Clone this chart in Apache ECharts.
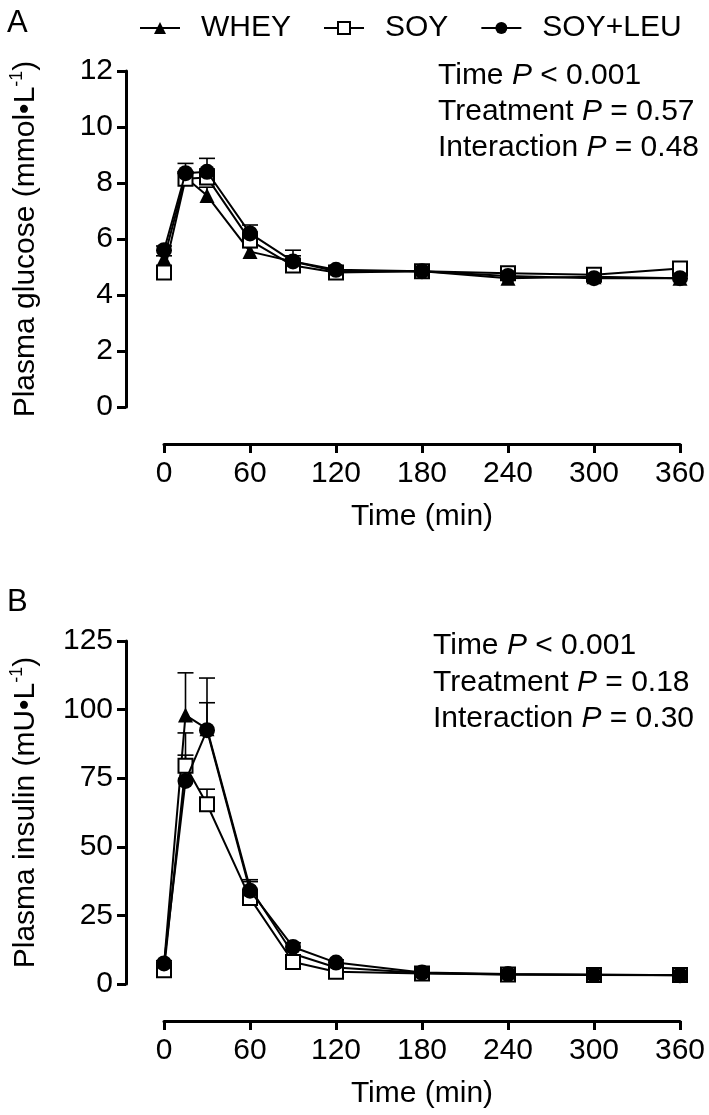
<!DOCTYPE html>
<html>
<head>
<meta charset="utf-8">
<script src="https://cdn.jsdelivr.net/npm/echarts@6/dist/echarts.min.js"></script>
<style>
html,body{margin:0;padding:0;background:#fff;}
#chart{width:709px;height:1115px;}
</style>
</head>
<body>
<div id="chart"></div>
<script>
const times = [0, 15, 30, 60, 90, 120, 180, 240, 300, 360];
const seriesNames = ['WHEY', 'SOY', 'SOY+LEU'];
const xTicks = [0, 60, 120, 180, 240, 300, 360];

// Panel A: plasma glucose (mmol/L), mean and upper SEM
const glucoseWhey = [5.3, 8.2, 7.55, 5.55, 5.2, 4.85, 4.85, 4.6, 4.65, 4.6];
const glucoseWheyErr = [0.1, 0.2, 0.3, 0.15, 0.2, 0.1, 0.1, 0.1, 0.1, 0.1];
const glucoseSoy = [4.8, 8.15, 8.2, 5.95, 5.05, 4.8, 4.85, 4.78, 4.72, 4.95];
const glucoseSoyErr = [0.1, 0.2, 0.3, 0.3, 0.2, 0.1, 0.1, 0.1, 0.1, 0.1];
const glucoseSoyLeu = [5.6, 8.35, 8.4, 6.2, 5.2, 4.9, 4.85, 4.68, 4.6, 4.6];
const glucoseSoyLeuErr = [0.15, 0.35, 0.48, 0.3, 0.4, 0.1, 0.15, 0.1, 0.1, 0.1];

// Panel B: plasma insulin (mU/L), mean and upper SEM
const insulinWhey = [7, 98, 93, 35, 11, 6, 4, 3.5, 3.5, 3.2];
const insulinWheyErr = [1, 15.4, 9.5, 3, 1.5, 1, 0.5, 0.5, 0.5, 0.5];
const insulinSoy = [5, 79.5, 65.5, 31.3, 8, 4.5, 3.8, 3.5, 3.3, 3.3];
const insulinSoyErr = [0.8, 12, 5.5, 3, 1, 0.5, 0.5, 0.5, 0.5, 0.5];
const insulinSoyLeu = [7.5, 74, 92.5, 34, 13.5, 7.8, 4.2, 3.6, 3.3, 3.2];
const insulinSoyLeuErr = [1, 9.4, 19, 3.3, 1.5, 1, 0.5, 0.5, 0.5, 0.5];

const statsA = [['Time ', 'P', ' < 0.001'], ['Treatment ', 'P', ' = 0.57'], ['Interaction ', 'P', ' = 0.48']];
const statsB = [['Time ', 'P', ' < 0.001'], ['Treatment ', 'P', ' = 0.18'], ['Interaction ', 'P', ' = 0.30']];

const FONT = 'Liberation Sans';
const FS = 30;

const markerStyles = {
  'WHEY': { symbol: 'triangle', symbolSize: 15, itemStyle: { color: '#000', borderColor: '#000', borderWidth: 0 } },
  'SOY': { symbol: 'rect', symbolSize: 14, itemStyle: { color: '#fff', borderColor: '#000', borderWidth: 2 } },
  'SOY+LEU': { symbol: 'circle', symbolSize: 16, itemStyle: { color: '#000', borderColor: '#000', borderWidth: 0 } }
};

function pairs(vals) { return times.map((t, i) => [t, vals[i]]); }
function triples(vals, errs) { return times.map((t, i) => [t, vals[i], errs[i]]); }

function lineSeries(name, vals, idx, z) {
  const m = markerStyles[name];
  return {
    name: name, type: 'line', xAxisIndex: idx, yAxisIndex: idx,
    data: pairs(vals), symbol: m.symbol, symbolSize: m.symbolSize,
    itemStyle: m.itemStyle, lineStyle: { color: '#000', width: 2 },
    z: z, animation: false, showSymbol: true
  };
}

function errSeries(name, vals, errs, idx) {
  return {
    name: name + ' SEM', type: 'custom', xAxisIndex: idx, yAxisIndex: idx,
    data: triples(vals, errs), encode: { x: 0, y: [1, 2] }, z: 1, animation: false,
    renderItem: function (params, api) {
      const t = api.value(0), v = api.value(1), e = api.value(2);
      const p0 = api.coord([t, v]);
      const p1 = api.coord([t, v + e]);
      const st = { stroke: '#000', lineWidth: 1.6 };
      return {
        type: 'group', children: [
          { type: 'line', shape: { x1: p0[0], y1: p0[1], x2: p1[0], y2: p1[1] }, style: st },
          { type: 'line', shape: { x1: p1[0] - 8, y1: p1[1], x2: p1[0] + 8, y2: p1[1] }, style: st }
        ]
      };
    }
  };
}

function xAxis(idx, nameGap) {
  return {
    type: 'value', gridIndex: idx, min: 0, max: 360, interval: 60, offset: 37,
    name: 'Time (min)', nameLocation: 'middle', nameGap: nameGap,
    nameTextStyle: { fontSize: FS, color: '#000', fontFamily: FONT },
    axisLine: { show: true, onZero: false, lineStyle: { color: '#000', width: 3 } },
    axisTick: { show: true, length: 9, lineStyle: { color: '#000', width: 3 } },
    axisLabel: { fontSize: FS, color: '#000', margin: 15, fontFamily: FONT },
    splitLine: { show: false }
  };
}

function yAxis(idx, max, interval, nameMain, unit) {
  return {
    type: 'value', gridIndex: idx, min: 0, max: max, interval: interval, offset: 38,
    name: '{a|' + nameMain + ' (' + unit + '}{s|-1}{a|)}', nameLocation: 'middle', nameGap: 82,
    nameTextStyle: {
      color: '#000', fontFamily: FONT,
      rich: {
        a: { fontSize: FS, fontFamily: FONT, color: '#000', lineHeight: 36 },
        s: { fontSize: 18, fontFamily: FONT, color: '#000', lineHeight: 20, verticalAlign: 'top' }
      }
    },
    axisLine: { show: true, onZero: false, lineStyle: { color: '#000', width: 3 } },
    axisTick: { show: true, length: 9, lineStyle: { color: '#000', width: 3 } },
    axisLabel: { fontSize: FS, color: '#000', margin: 13, fontFamily: FONT },
    splitLine: { show: false }
  };
}

function statText(lines, x, ys) {
  return lines.map((l, i) => ({
    type: 'text', left: x, top: ys[i] - 18,
    style: {
      text: '{r|' + l[0] + '}{i|' + l[1] + '}{r|' + l[2] + '}',
      rich: {
        r: { fontSize: FS, fontFamily: FONT, fill: '#000', lineHeight: 36 },
        i: { fontSize: FS, fontFamily: FONT, fill: '#000', fontStyle: 'italic', lineHeight: 36 }
      }
    }
  }));
}

const chart = echarts.init(document.getElementById('chart'), null, { renderer: 'canvas' });
const option = {
  backgroundColor: '#fff',
  animation: false,
  textStyle: { fontFamily: FONT },
  legend: {
    data: seriesNames, left: 134, top: 8, itemWidth: 40, itemHeight: 15, itemGap: 32,
    textStyle: { fontSize: FS, color: '#000', fontFamily: FONT, padding: [0, 0, 0, 16] },
    selectedMode: false
  },
  grid: [
    { left: 157, right: 29, top: 71, height: 336 },
    { left: 157, right: 29, top: 641, height: 343 }
  ],
  xAxis: [xAxis(0, 58), xAxis(1, 58)],
  yAxis: [
    yAxis(0, 12, 2, 'Plasma glucose', 'mmol•L'),
    yAxis(1, 125, 25, 'Plasma insulin', 'mU•L')
  ],
  graphic: [
    { type: 'text', left: 7, top: 8, style: { text: 'A', fontSize: 31, fontFamily: FONT, fill: '#000' } },
    { type: 'text', left: 7, top: 587, style: { text: 'B', fontSize: 31, fontFamily: FONT, fill: '#000' } }
  ].concat(statText(statsA, 438, [79, 115, 151])).concat(statText(statsB, 433, [649, 686, 722])),
  series: [
    errSeries('WHEY', glucoseWhey, glucoseWheyErr, 0),
    errSeries('SOY', glucoseSoy, glucoseSoyErr, 0),
    errSeries('SOY+LEU', glucoseSoyLeu, glucoseSoyLeuErr, 0),
    lineSeries('WHEY', glucoseWhey, 0, 3),
    lineSeries('SOY', glucoseSoy, 0, 4),
    lineSeries('SOY+LEU', glucoseSoyLeu, 0, 5),
    errSeries('WHEY', insulinWhey, insulinWheyErr, 1),
    errSeries('SOY', insulinSoy, insulinSoyErr, 1),
    errSeries('SOY+LEU', insulinSoyLeu, insulinSoyLeuErr, 1),
    lineSeries('WHEY', insulinWhey, 1, 3),
    lineSeries('SOY', insulinSoy, 1, 4),
    lineSeries('SOY+LEU', insulinSoyLeu, 1, 5)
  ]
};
chart.setOption(option);
</script>
</body>
</html>
